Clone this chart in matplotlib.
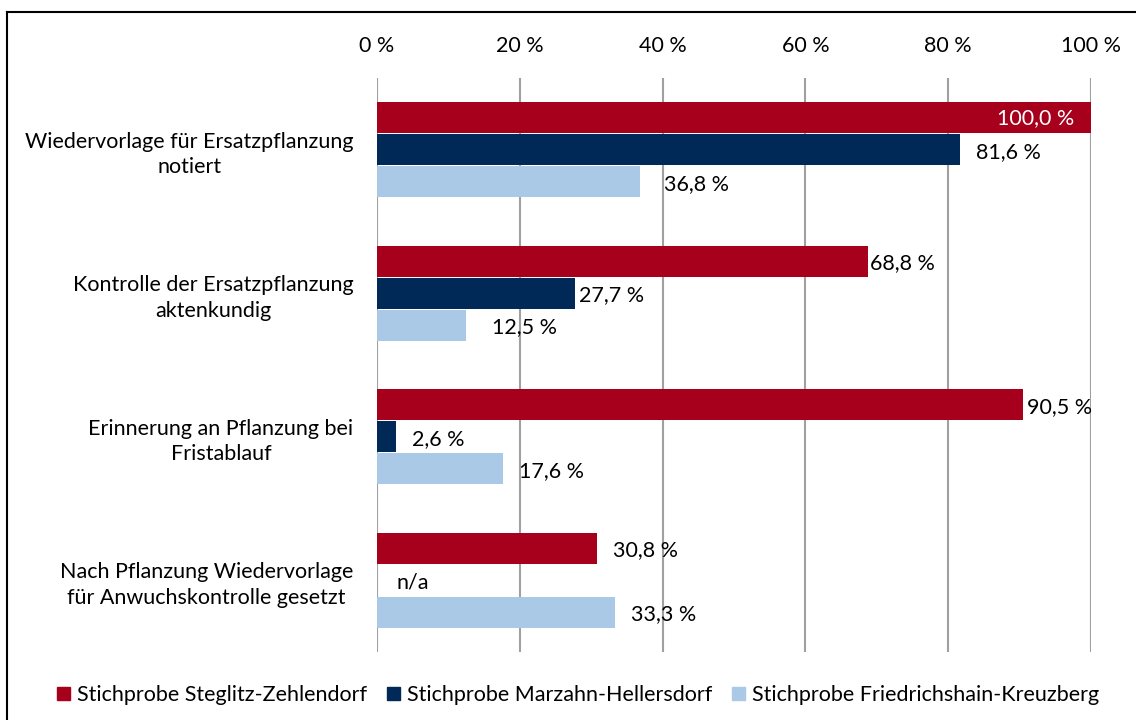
import numpy as np
import matplotlib.pyplot as plt
from matplotlib.lines import Line2D
from matplotlib.patches import Patch

plt.rcParams["font.family"] = ["Lato", "DejaVu Sans"]

categories = [
    "Wiedervorlage für Ersatzpflanzung\nnotiert",
    "Kontrolle der Ersatzpflanzung\naktenkundig",
    "Erinnerung an Pflanzung bei\nFristablauf",
    "Nach Pflanzung Wiedervorlage\nfür Anwuchskontrolle gesetzt",
]
series_names = [
    "Stichprobe Steglitz-Zehlendorf",
    "Stichprobe Marzahn-Hellersdorf",
    "Stichprobe Friedrichshain-Kreuzberg",
]
steglitz = [100.0, 68.8, 90.5, 30.8]
marzahn = [81.6, 27.7, 2.6, np.nan]  # last one: n/a
friedrichshain = [36.8, 12.5, 17.6, 33.3]
xticks = [0, 20, 40, 60, 80, 100]

FS = 15.5
colors = ["#A6001C", "#002957", "#A9C9E7"]
# extra label offsets in pixels (labels were nudged by hand in the original)
label_dx = [
    [None, 2, 4, 16],
    [16, 4, 16, None],
    [24, 26, 16, 16],
]

fig = plt.figure(figsize=(11.36, 7.2), dpi=100)
ax = fig.add_axes([377 / 1136, 1 - 652 / 720, 714 / 1136, 574 / 720])

y = np.arange(len(categories))
h = 0.216
step = 0.224
for k, (vals, col) in enumerate(zip([steglitz, marzahn, friedrichshain], colors)):
    ypos = y + (k - 1) * step
    vals = np.array(vals, dtype=float)
    ax.barh(ypos, np.nan_to_num(vals), height=h, color=col, zorder=3)
    for i, v in enumerate(vals):
        if np.isnan(v):
            ax.annotate("n/a", (0, ypos[i]), xytext=(20, -2), textcoords="offset pixels",
                        ha="left", va="center", fontsize=FS, color="black")
            continue
        lbl = f"{v:.1f}".replace(".", ",") + " %"
        if v >= 100:
            ax.annotate(lbl, (v, ypos[i]), xytext=(-17, 0), textcoords="offset pixels",
                        ha="right", va="center", fontsize=FS, color="white", zorder=4)
        else:
            ax.annotate(lbl, (v, ypos[i]), xytext=(label_dx[k][i], -2), textcoords="offset pixels",
                        ha="left", va="center", fontsize=FS, color="black", zorder=4)

ax.set_xlim(0, 100)
ax.set_ylim(3.5, -0.5)
ax.set_xticks(xticks)
ax.set_xticklabels([f"{t} %" for t in xticks], fontsize=FS)
ax.xaxis.tick_top()
ax.tick_params(axis="x", length=0, pad=16)
ax.set_yticks(y)
ax.set_yticklabels(categories, fontsize=FS, ha="right", multialignment="center",
                   linespacing=1.35)
ax.tick_params(axis="y", length=0, pad=17)
ax.grid(axis="x", color="#A0A0A0", linewidth=1.5, zorder=0)
for s in ax.spines.values():
    s.set_visible(False)

handles = [Patch(color=c) for c in colors]
fig.legend(handles, series_names, loc="center", bbox_to_anchor=(578 / 1136, 1 - 695 / 720),
           ncol=3, frameon=False, fontsize=FS, handlelength=0.6, handleheight=0.6,
           handletextpad=0.35, columnspacing=0.9)

# chart frame (only left and top edge are visible in the crop)
fig.add_artist(Line2D([7 / 1136, 7 / 1136], [0, 1 - 12 / 720], color="black", linewidth=1.5))
fig.add_artist(Line2D([7 / 1136, 1], [1 - 12 / 720, 1 - 12 / 720], color="black", linewidth=1.5))

fig.savefig("out.png", dpi=100)
